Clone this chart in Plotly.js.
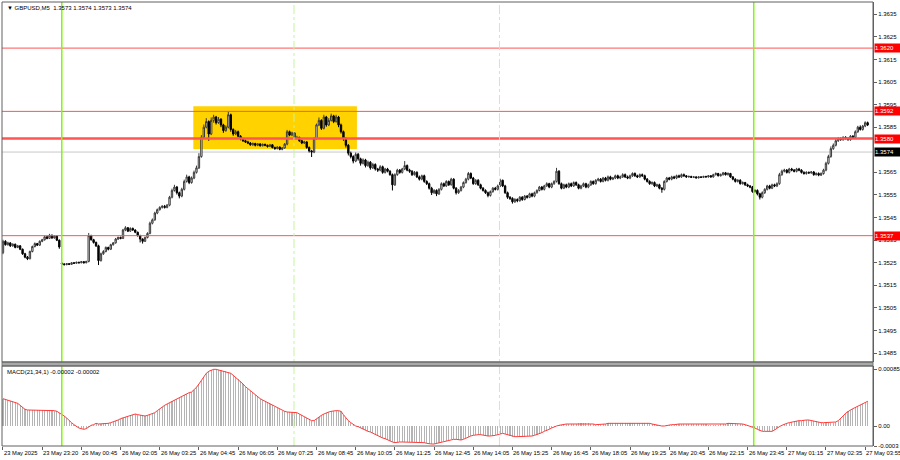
<!DOCTYPE html>
<html><head><meta charset="utf-8">
<script src="https://cdn.plot.ly/plotly-3.0.1.min.js"></script>
<style>html,body{margin:0;padding:0;background:#fff;}#chart{width:900px;height:460px;}</style>
</head><body><div id="chart"></div>
<script>
const opens = [
1.35295,1.35345,1.35330,1.35338,1.35325,1.35332,1.35318,1.35325,1.35310,1.35290,
1.35275,1.35268,1.35300,1.35322,1.35335,1.35328,1.35345,1.35352,1.35365,1.35358,
1.35372,1.35360,1.35368,1.35350,1.35248,1.35245,1.35242,1.35246,1.35243,1.35250,
1.35248,1.35252,1.35250,1.35255,1.35250,1.35256,1.35370,1.35352,1.35340,1.35325,
1.35260,1.35290,1.35300,1.35318,1.35310,1.35330,1.35338,1.35355,1.35362,1.35358,
1.35395,1.35405,1.35390,1.35402,1.35395,1.35385,1.35370,1.35355,1.35345,1.35362,
1.35380,1.35425,1.35440,1.35470,1.35485,1.35495,1.35500,1.35495,1.35505,1.35540,
1.35570,1.35585,1.35560,1.35545,1.35575,1.35610,1.35630,1.35605,1.35625,1.35650,
1.35670,1.35720,1.35805,1.35850,1.35875,1.35820,1.35880,1.35895,1.35870,1.35885,
1.35860,1.35835,1.35850,1.35905,1.35840,1.35820,1.35830,1.35810,1.35798,1.35790,
1.35785,1.35780,1.35772,1.35778,1.35770,1.35776,1.35768,1.35774,1.35770,1.35765,
1.35772,1.35760,1.35755,1.35762,1.35752,1.35758,1.35775,1.35830,1.35815,1.35825,
1.35800,1.35805,1.35790,1.35780,1.35785,1.35760,1.35745,1.35740,1.35800,1.35860,
1.35880,1.35845,1.35895,1.35860,1.35880,1.35900,1.35875,1.35895,1.35860,1.35830,
1.35800,1.35770,1.35735,1.35720,1.35700,1.35730,1.35710,1.35690,1.35705,1.35680,
1.35695,1.35670,1.35685,1.35665,1.35660,1.35675,1.35650,1.35665,1.35655,1.35640,
1.35595,1.35640,1.35660,1.35650,1.35665,1.35680,1.35660,1.35655,1.35640,1.35650,
1.35630,1.35620,1.35635,1.35610,1.35600,1.35580,1.35560,1.35570,1.35555,1.35575,
1.35600,1.35590,1.35610,1.35595,1.35620,1.35580,1.35560,1.35570,1.35585,1.35605,
1.35620,1.35645,1.35625,1.35600,1.35615,1.35595,1.35580,1.35570,1.35560,1.35548,
1.35565,1.35580,1.35575,1.35590,1.35615,1.35590,1.35560,1.35540,1.35535,1.35520,
1.35530,1.35525,1.35540,1.35530,1.35545,1.35540,1.35555,1.35545,1.35560,1.35570,
1.35585,1.35575,1.35590,1.35600,1.35585,1.35600,1.35610,1.35655,1.35600,1.35580,
1.35595,1.35585,1.35600,1.35590,1.35605,1.35595,1.35580,1.35590,1.35600,1.35585,
1.35595,1.35610,1.35600,1.35615,1.35620,1.35610,1.35625,1.35615,1.35630,1.35620,
1.35625,1.35635,1.35625,1.35630,1.35640,1.35630,1.35625,1.35635,1.35645,1.35635,
1.35630,1.35640,1.35635,1.35620,1.35610,1.35600,1.35605,1.35590,1.35595,1.35580,
1.35575,1.35610,1.35625,1.35620,1.35630,1.35625,1.35635,1.35630,1.35640,1.35635,
1.35630,1.35632,1.35628,1.35630,1.35626,1.35630,1.35628,1.35632,1.35630,1.35635,
1.35630,1.35640,1.35645,1.35635,1.35640,1.35648,1.35640,1.35645,1.35630,1.35620,
1.35610,1.35615,1.35600,1.35605,1.35595,1.35590,1.35585,1.35565,1.35570,1.35555,
1.35540,1.35560,1.35575,1.35590,1.35580,1.35595,1.35590,1.35600,1.35640,1.35655,
1.35660,1.35650,1.35665,1.35660,1.35655,1.35665,1.35660,1.35650,1.35645,1.35650,
1.35648,1.35652,1.35640,1.35645,1.35638,1.35645,1.35660,1.35690,1.35720,1.35755,
1.35770,1.35790,1.35800,1.35795,1.35805,1.35800,1.35795,1.35810,1.35805,1.35830,
1.35850,1.35840,1.35855,1.35870];
const highs = [
1.35352,1.35350,1.35343,1.35341,1.35336,1.35335,1.35329,1.35328,1.35313,1.35294,
1.35280,1.35304,1.35326,1.35340,1.35338,1.35349,1.35356,1.35370,1.35368,1.35378,
1.35375,1.35372,1.35371,1.35353,1.35252,1.35248,1.35249,1.35249,1.35253,1.35253,
1.35255,1.35255,1.35258,1.35257,1.35259,1.35382,1.35374,1.35356,1.35344,1.35330,
1.35295,1.35306,1.35322,1.35321,1.35334,1.35342,1.35360,1.35366,1.35366,1.35400,
1.35412,1.35408,1.35407,1.35406,1.35398,1.35388,1.35374,1.35358,1.35366,1.35385,
1.35432,1.35446,1.35476,1.35490,1.35500,1.35505,1.35506,1.35510,1.35546,1.35578,
1.35595,1.35590,1.35565,1.35582,1.35618,1.35640,1.35635,1.35632,1.35658,1.35680,
1.35735,1.35815,1.35862,1.35890,1.35880,1.35893,1.35905,1.35900,1.35895,1.35890,
1.35865,1.35858,1.35920,1.35910,1.35845,1.35838,1.35835,1.35815,1.35803,1.35795,
1.35790,1.35784,1.35782,1.35781,1.35780,1.35779,1.35778,1.35777,1.35773,1.35776,
1.35775,1.35764,1.35766,1.35765,1.35762,1.35780,1.35838,1.35835,1.35830,1.35828,
1.35812,1.35808,1.35795,1.35790,1.35788,1.35765,1.35750,1.35806,1.35866,1.35893,
1.35885,1.35905,1.35900,1.35890,1.35910,1.35905,1.35905,1.35900,1.35866,1.35835,
1.35805,1.35775,1.35742,1.35726,1.35738,1.35736,1.35715,1.35712,1.35710,1.35702,
1.35700,1.35692,1.35690,1.35670,1.35682,1.35680,1.35670,1.35670,1.35660,1.35645,
1.35646,1.35666,1.35665,1.35670,1.35700,1.35685,1.35666,1.35660,1.35656,1.35655,
1.35636,1.35640,1.35640,1.35615,1.35605,1.35586,1.35576,1.35575,1.35580,1.35606,
1.35605,1.35615,1.35614,1.35626,1.35624,1.35585,1.35576,1.35590,1.35610,1.35626,
1.35652,1.35650,1.35630,1.35620,1.35620,1.35600,1.35585,1.35575,1.35565,1.35570,
1.35585,1.35586,1.35596,1.35622,1.35618,1.35595,1.35565,1.35545,1.35540,1.35536,
1.35535,1.35545,1.35545,1.35550,1.35550,1.35560,1.35560,1.35565,1.35575,1.35590,
1.35590,1.35595,1.35606,1.35604,1.35605,1.35615,1.35670,1.35660,1.35605,1.35600,
1.35600,1.35605,1.35605,1.35610,1.35610,1.35600,1.35595,1.35605,1.35604,1.35600,
1.35615,1.35614,1.35620,1.35626,1.35625,1.35630,1.35630,1.35636,1.35635,1.35630,
1.35640,1.35640,1.35636,1.35646,1.35645,1.35636,1.35640,1.35650,1.35650,1.35640,
1.35645,1.35645,1.35640,1.35625,1.35615,1.35610,1.35610,1.35600,1.35600,1.35585,
1.35615,1.35630,1.35630,1.35635,1.35635,1.35640,1.35640,1.35645,1.35645,1.35638,
1.35636,1.35635,1.35633,1.35633,1.35633,1.35633,1.35635,1.35635,1.35638,1.35638,
1.35644,1.35650,1.35648,1.35645,1.35652,1.35652,1.35650,1.35648,1.35634,1.35624,
1.35620,1.35620,1.35610,1.35608,1.35600,1.35594,1.35590,1.35576,1.35575,1.35560,
1.35566,1.35580,1.35595,1.35595,1.35600,1.35600,1.35606,1.35648,1.35662,1.35666,
1.35665,1.35670,1.35670,1.35665,1.35670,1.35670,1.35664,1.35655,1.35655,1.35654,
1.35656,1.35656,1.35650,1.35650,1.35650,1.35666,1.35697,1.35728,1.35765,1.35778,
1.35797,1.35806,1.35805,1.35810,1.35810,1.35806,1.35815,1.35815,1.35836,1.35856,
1.35858,1.35860,1.35876,1.35875];
const lows = [
1.35288,1.35326,1.35326,1.35320,1.35321,1.35314,1.35315,1.35306,1.35285,1.35270,
1.35262,1.35265,1.35296,1.35318,1.35324,1.35325,1.35341,1.35348,1.35354,1.35355,
1.35356,1.35357,1.35346,1.35312,1.35240,1.35238,1.35239,1.35240,1.35241,1.35245,
1.35246,1.35247,1.35248,1.35247,1.35248,1.35252,1.35348,1.35335,1.35320,1.35240,
1.35255,1.35285,1.35296,1.35305,1.35307,1.35326,1.35335,1.35351,1.35354,1.35355,
1.35390,1.35386,1.35387,1.35391,1.35381,1.35366,1.35340,1.35335,1.35342,1.35358,
1.35376,1.35420,1.35436,1.35465,1.35481,1.35490,1.35490,1.35491,1.35500,1.35535,
1.35565,1.35552,1.35535,1.35540,1.35570,1.35605,1.35598,1.35600,1.35620,1.35645,
1.35665,1.35715,1.35798,1.35845,1.35790,1.35815,1.35870,1.35862,1.35865,1.35850,
1.35825,1.35830,1.35845,1.35830,1.35812,1.35815,1.35805,1.35792,1.35785,1.35780,
1.35775,1.35768,1.35768,1.35765,1.35766,1.35764,1.35765,1.35766,1.35760,1.35762,
1.35756,1.35750,1.35752,1.35748,1.35748,1.35755,1.35770,1.35810,1.35810,1.35795,
1.35796,1.35785,1.35775,1.35776,1.35755,1.35738,1.35718,1.35735,1.35795,1.35855,
1.35838,1.35840,1.35852,1.35855,1.35875,1.35868,1.35870,1.35850,1.35822,1.35790,
1.35760,1.35725,1.35712,1.35690,1.35695,1.35702,1.35680,1.35685,1.35672,1.35675,
1.35662,1.35665,1.35658,1.35652,1.35655,1.35644,1.35645,1.35650,1.35635,1.35570,
1.35590,1.35635,1.35644,1.35645,1.35660,1.35655,1.35648,1.35634,1.35636,1.35625,
1.35614,1.35615,1.35604,1.35594,1.35574,1.35550,1.35555,1.35545,1.35550,1.35570,
1.35585,1.35586,1.35590,1.35592,1.35575,1.35552,1.35555,1.35565,1.35580,1.35600,
1.35615,1.35620,1.35595,1.35595,1.35590,1.35575,1.35565,1.35555,1.35540,1.35543,
1.35560,1.35570,1.35570,1.35585,1.35585,1.35555,1.35533,1.35528,1.35512,1.35515,
1.35518,1.35520,1.35524,1.35526,1.35534,1.35536,1.35540,1.35540,1.35556,1.35566,
1.35570,1.35570,1.35586,1.35580,1.35580,1.35595,1.35605,1.35595,1.35575,1.35576,
1.35580,1.35580,1.35585,1.35586,1.35590,1.35575,1.35575,1.35585,1.35580,1.35580,
1.35590,1.35595,1.35596,1.35610,1.35605,1.35606,1.35610,1.35610,1.35615,1.35616,
1.35620,1.35620,1.35620,1.35626,1.35625,1.35620,1.35620,1.35630,1.35630,1.35625,
1.35626,1.35630,1.35615,1.35605,1.35595,1.35595,1.35585,1.35585,1.35575,1.35560,
1.35570,1.35605,1.35615,1.35615,1.35620,1.35620,1.35625,1.35626,1.35630,1.35626,
1.35627,1.35625,1.35625,1.35623,1.35623,1.35625,1.35625,1.35627,1.35627,1.35627,
1.35627,1.35636,1.35632,1.35632,1.35636,1.35636,1.35636,1.35626,1.35615,1.35605,
1.35605,1.35596,1.35596,1.35590,1.35585,1.35580,1.35560,1.35560,1.35548,1.35530,
1.35535,1.35555,1.35570,1.35575,1.35576,1.35585,1.35585,1.35595,1.35635,1.35650,
1.35645,1.35645,1.35655,1.35650,1.35650,1.35655,1.35645,1.35640,1.35640,1.35643,
1.35644,1.35635,1.35636,1.35633,1.35634,1.35640,1.35655,1.35685,1.35715,1.35750,
1.35765,1.35785,1.35790,1.35790,1.35795,1.35790,1.35790,1.35800,1.35800,1.35825,
1.35835,1.35835,1.35850,1.35855];
const closes = [
1.35345,1.35330,1.35338,1.35325,1.35332,1.35318,1.35325,1.35310,1.35290,1.35275,
1.35268,1.35300,1.35322,1.35335,1.35328,1.35345,1.35352,1.35365,1.35358,1.35372,
1.35360,1.35368,1.35350,1.35320,1.35245,1.35242,1.35246,1.35243,1.35250,1.35248,
1.35252,1.35250,1.35255,1.35250,1.35256,1.35370,1.35352,1.35340,1.35325,1.35260,
1.35290,1.35300,1.35318,1.35310,1.35330,1.35338,1.35355,1.35362,1.35358,1.35395,
1.35405,1.35390,1.35402,1.35395,1.35385,1.35370,1.35355,1.35345,1.35362,1.35380,
1.35425,1.35440,1.35470,1.35485,1.35495,1.35500,1.35495,1.35505,1.35540,1.35570,
1.35585,1.35560,1.35545,1.35575,1.35610,1.35630,1.35605,1.35625,1.35650,1.35670,
1.35720,1.35805,1.35850,1.35875,1.35820,1.35880,1.35895,1.35870,1.35885,1.35860,
1.35835,1.35850,1.35905,1.35840,1.35820,1.35830,1.35810,1.35798,1.35790,1.35785,
1.35780,1.35772,1.35778,1.35770,1.35776,1.35768,1.35774,1.35770,1.35765,1.35772,
1.35760,1.35755,1.35762,1.35752,1.35758,1.35775,1.35830,1.35815,1.35825,1.35800,
1.35805,1.35790,1.35780,1.35785,1.35760,1.35745,1.35740,1.35800,1.35860,1.35880,
1.35845,1.35895,1.35860,1.35880,1.35900,1.35875,1.35895,1.35860,1.35830,1.35800,
1.35770,1.35735,1.35720,1.35700,1.35730,1.35710,1.35690,1.35705,1.35680,1.35695,
1.35670,1.35685,1.35665,1.35660,1.35675,1.35650,1.35665,1.35655,1.35640,1.35595,
1.35640,1.35660,1.35650,1.35665,1.35680,1.35660,1.35655,1.35640,1.35650,1.35630,
1.35620,1.35635,1.35610,1.35600,1.35580,1.35560,1.35570,1.35555,1.35575,1.35600,
1.35590,1.35610,1.35595,1.35620,1.35580,1.35560,1.35570,1.35585,1.35605,1.35620,
1.35645,1.35625,1.35600,1.35615,1.35595,1.35580,1.35570,1.35560,1.35548,1.35565,
1.35580,1.35575,1.35590,1.35615,1.35590,1.35560,1.35540,1.35535,1.35520,1.35530,
1.35525,1.35540,1.35530,1.35545,1.35540,1.35555,1.35545,1.35560,1.35570,1.35585,
1.35575,1.35590,1.35600,1.35585,1.35600,1.35610,1.35655,1.35600,1.35580,1.35595,
1.35585,1.35600,1.35590,1.35605,1.35595,1.35580,1.35590,1.35600,1.35585,1.35595,
1.35610,1.35600,1.35615,1.35620,1.35610,1.35625,1.35615,1.35630,1.35620,1.35625,
1.35635,1.35625,1.35630,1.35640,1.35630,1.35625,1.35635,1.35645,1.35635,1.35630,
1.35640,1.35635,1.35620,1.35610,1.35600,1.35605,1.35590,1.35595,1.35580,1.35575,
1.35610,1.35625,1.35620,1.35630,1.35625,1.35635,1.35630,1.35640,1.35635,1.35630,
1.35632,1.35628,1.35630,1.35626,1.35630,1.35628,1.35632,1.35630,1.35635,1.35630,
1.35640,1.35645,1.35635,1.35640,1.35648,1.35640,1.35645,1.35630,1.35620,1.35610,
1.35615,1.35600,1.35605,1.35595,1.35590,1.35585,1.35565,1.35570,1.35555,1.35540,
1.35560,1.35575,1.35590,1.35580,1.35595,1.35590,1.35600,1.35640,1.35655,1.35660,
1.35650,1.35665,1.35660,1.35655,1.35665,1.35660,1.35650,1.35645,1.35650,1.35648,
1.35652,1.35640,1.35645,1.35638,1.35645,1.35660,1.35690,1.35720,1.35755,1.35770,
1.35790,1.35800,1.35795,1.35805,1.35800,1.35795,1.35810,1.35805,1.35830,1.35850,
1.35840,1.35855,1.35870,1.35860];
const macd = [
0.00041,0.00040,0.00039,0.00038,0.00037,0.00036,0.00034,0.00031,0.00028,0.00025,
0.00024,0.00024,0.00024,0.00024,0.00024,0.00024,0.00024,0.00024,0.00024,0.00024,
0.00024,0.00023,0.00022,0.00020,0.00018,0.00015,0.00012,0.00008,0.00005,0.00002,
-0.00001,-0.00003,-0.00004,-0.00005,-0.00004,-0.00001,0.00001,0.00002,0.00004,0.00003,
0.00003,0.00004,0.00004,0.00004,0.00005,0.00006,0.00008,0.00009,0.00011,0.00012,
0.00014,0.00015,0.00016,0.00017,0.00018,0.00017,0.00016,0.00015,0.00015,0.00016,
0.00017,0.00018,0.00020,0.00023,0.00026,0.00028,0.00031,0.00033,0.00035,0.00037,
0.00039,0.00041,0.00042,0.00044,0.00046,0.00048,0.00050,0.00051,0.00054,0.00058,
0.00063,0.00068,0.00074,0.00079,0.00082,0.00084,0.00085,0.00085,0.00084,0.00084,
0.00083,0.00082,0.00081,0.00079,0.00076,0.00073,0.00070,0.00067,0.00063,0.00059,
0.00056,0.00052,0.00049,0.00046,0.00043,0.00041,0.00039,0.00037,0.00035,0.00033,
0.00031,0.00029,0.00027,0.00025,0.00023,0.00022,0.00021,0.00021,0.00021,0.00021,
0.00020,0.00018,0.00016,0.00014,0.00012,0.00010,0.00008,0.00008,0.00011,0.00014,
0.00016,0.00018,0.00020,0.00021,0.00022,0.00023,0.00023,0.00023,0.00022,0.00017,
0.00012,0.00008,0.00005,0.00002,0.00000,-0.00001,-0.00003,-0.00005,-0.00006,-0.00008,
-0.00009,-0.00011,-0.00013,-0.00014,-0.00016,-0.00018,-0.00019,-0.00021,-0.00023,-0.00024,
-0.00025,-0.00024,-0.00024,-0.00024,-0.00024,-0.00024,-0.00024,-0.00024,-0.00024,-0.00024,
-0.00024,-0.00025,-0.00025,-0.00026,-0.00027,-0.00027,-0.00027,-0.00026,-0.00025,-0.00024,
-0.00023,-0.00022,-0.00021,-0.00020,-0.00020,-0.00020,-0.00021,-0.00021,-0.00020,-0.00018,
-0.00016,-0.00015,-0.00014,-0.00013,-0.00013,-0.00013,-0.00014,-0.00015,-0.00015,-0.00015,
-0.00015,-0.00014,-0.00013,-0.00012,-0.00011,-0.00012,-0.00013,-0.00015,-0.00016,-0.00016,
-0.00016,-0.00016,-0.00016,-0.00016,-0.00015,-0.00015,-0.00015,-0.00014,-0.00013,-0.00012,
-0.00010,-0.00008,-0.00007,-0.00005,-0.00003,-0.00001,0.00000,0.00001,0.00002,0.00002,
0.00003,0.00003,0.00003,0.00003,0.00003,0.00004,0.00004,0.00004,0.00004,0.00004,
0.00003,0.00003,0.00002,0.00002,0.00002,0.00003,0.00003,0.00004,0.00004,0.00005,
0.00005,0.00005,0.00005,0.00005,0.00005,0.00004,0.00004,0.00004,0.00004,0.00004,
0.00004,0.00005,0.00005,0.00005,0.00004,0.00003,0.00002,0.00001,0.00000,0.00000,
0.00000,0.00001,0.00001,0.00002,0.00002,0.00003,0.00003,0.00003,0.00003,0.00003,
0.00003,0.00003,0.00003,0.00003,0.00003,0.00003,0.00003,0.00003,0.00002,0.00002,
0.00002,0.00002,0.00002,0.00003,0.00003,0.00003,0.00004,0.00004,0.00004,0.00004,
0.00003,0.00003,0.00003,0.00002,0.00001,0.00000,-0.00001,-0.00003,-0.00005,-0.00007,
-0.00008,-0.00008,-0.00008,-0.00008,-0.00008,-0.00006,-0.00003,-0.00001,0.00001,0.00003,
0.00004,0.00005,0.00006,0.00007,0.00007,0.00008,0.00008,0.00009,0.00009,0.00009,
0.00008,0.00008,0.00007,0.00006,0.00005,0.00005,0.00005,0.00005,0.00005,0.00005,
0.00006,0.00008,0.00011,0.00015,0.00019,0.00022,0.00024,0.00026,0.00028,0.00030,
0.00032,0.00033,0.00035,0.00037];

const tickIdx = [0,16,32,48,64,80,96,112,128,144,160,176,192,208,224,240,256,272,288,304,320,336,352];
const tickLabels = ["23 May 2025","23 May 23:20","26 May 00:45","26 May 02:05","26 May 03:25","26 May 04:45",
 "26 May 06:05","26 May 07:25","26 May 08:45","26 May 10:05","26 May 11:25","26 May 12:45","26 May 14:05",
 "26 May 15:25","26 May 16:45","26 May 18:05","26 May 19:25","26 May 20:45","26 May 22:15","26 May 23:45",
 "27 May 01:15","27 May 02:35","27 May 03:55"];
const priceTicks = [1.3485,1.3495,1.3505,1.3515,1.3525,1.3535,1.3545,1.3555,1.3565,1.3585,1.3595,1.3605,1.3615,1.3625,1.3635];
const macdTicks = [-0.0003, 0, 0.00085];
const macdTickText = ["-0.0003","0.00","0.00085"];
const redLevels = [1.3620, 1.3592, 1.3580, 1.3537];
const bidLevel = 1.3574;
const sessionLines = [24, 306.5];
const dashedLines = [118.8, 202.7];
const zoneX = [77.7, 144.5];
const zoneY = [1.35753, 1.35943];
const headerText = "\u25BC GBPUSD,M5  1.3573 1.3574 1.3573 1.3574";
const macdText = "MACD(21,34,1) -0.00002 -0.00002";

const barIdx = closes.map((_, i) => i);
const FONT = "Liberation Sans, Arial, sans-serif";
const mainDom = [0.1892, 1];
const macdDom = [0, 0.1802];

const traces = [
 {type:'candlestick', x:barIdx, open:opens, high:highs, low:lows, close:closes,
  xaxis:'x', yaxis:'y', whiskerwidth:0, hoverinfo:'none', showlegend:false,
  increasing:{line:{color:'#3a3a3a', width:1}, fillcolor:'#ffffff'},
  decreasing:{line:{color:'#000000', width:1}, fillcolor:'#000000'}},
 {type:'bar', x:barIdx, y:macd, xaxis:'x', yaxis:'y2', width:0.45,
  marker:{color:'#b4b4b4', line:{width:0}}, hoverinfo:'none', showlegend:false},
 {type:'scatter', mode:'lines', x:barIdx, y:macd, xaxis:'x', yaxis:'y2',
  line:{color:'#ff3b3b', width:1}, hoverinfo:'none', showlegend:false}
];

const shapes = [];
shapes.push({type:'rect', xref:'x', yref:'y', x0:zoneX[0], x1:zoneX[1], y0:zoneY[0], y1:zoneY[1],
  fillcolor:'#ffd200', line:{width:0}, layer:'below'});
shapes.push({type:'line', xref:'paper', yref:'y', x0:0, x1:1, y0:bidLevel, y1:bidLevel,
  line:{color:'#c8c8c8', width:1}, layer:'below'});
redLevels.forEach(v => shapes.push({type:'line', xref:'paper', yref:'y', x0:0, x1:1, y0:v, y1:v,
  line:{color:'#ff5555', width: v === 1.3580 ? 2.5 : 1}, layer:'above'}));
sessionLines.forEach(v => shapes.push({type:'line', xref:'x', yref:'paper', x0:v, x1:v, y0:0, y1:1,
  line:{color:'#7cfc00', width:1.5}, layer:'above'}));
dashedLines.forEach(v => shapes.push({type:'line', xref:'x', yref:'paper', x0:v, x1:v, y0:0, y1:1,
  line:{color:'#c4f59a', width:1, dash:'dashdot'}, layer:'above'}));
shapes.push({type:'rect', xref:'paper', yref:'paper', x0:0, x1:1, y0:macdDom[1], y1:mainDom[0],
  fillcolor:'#a8a8a8', line:{color:'#7a7a7a', width:1}, layer:'above'});
shapes.push({type:'rect', xref:'paper', yref:'paper', x0:0, x1:1, y0:mainDom[0], y1:mainDom[1],
  fillcolor:'rgba(0,0,0,0)', line:{color:'#606060', width:1}, layer:'above'});
shapes.push({type:'rect', xref:'paper', yref:'paper', x0:0, x1:1, y0:macdDom[0], y1:macdDom[1],
  fillcolor:'rgba(0,0,0,0)', line:{color:'#606060', width:1}, layer:'above'});

const annotations = [];
annotations.push({xref:'paper', yref:'paper', x:0.003, y:1, xanchor:'left', yanchor:'top', yshift:-1,
  text:headerText, showarrow:false, font:{family:FONT, size:6, color:'#000'}});
annotations.push({xref:'paper', yref:'paper', x:0.003, y:macdDom[1], xanchor:'left', yanchor:'top', yshift:-1,
  text:macdText, showarrow:false, font:{family:FONT, size:6, color:'#000'}});
tickIdx.forEach((t, k) => annotations.push({xref:'x', yref:'paper', x:t, y:0, xanchor:'left', yanchor:'top',
  yshift:-2, xshift:-1, text:tickLabels[k], showarrow:false, font:{family:FONT, size:5.8, color:'#000'}}));
redLevels.forEach(v => annotations.push({xref:'paper', yref:'y', x:1, y:v, xanchor:'left', yanchor:'middle',
  xshift:1, text:v.toFixed(4), showarrow:false, bgcolor:'#ff0000', width:25, height:8, borderpad:0,
  align:'left', font:{family:FONT, size:6, color:'#ffffff'}}));
annotations.push({xref:'paper', yref:'y', x:1, y:bidLevel, xanchor:'left', yanchor:'middle',
  xshift:1, text:bidLevel.toFixed(4), showarrow:false, bgcolor:'#000000', width:25, height:8, borderpad:0,
  align:'left', font:{family:FONT, size:6, color:'#ffffff'}});

const layout = {
  width:900, height:460, margin:{l:2, r:27, t:2, b:14},
  paper_bgcolor:'#ffffff', plot_bgcolor:'#ffffff', showlegend:false, bargap:0, boxgap:0.2,
  xaxis:{range:[-0.4, 355.2], anchor:'y2', showgrid:false, zeroline:false, showline:false,
    tickvals:tickIdx, ticks:'outside', ticklen:3, tickcolor:'#606060', showticklabels:false,
    rangeslider:{visible:false}, fixedrange:true},
  yaxis:{domain:mainDom, range:[1.34811, 1.36404], side:'right', showgrid:false, zeroline:false,
    tickvals:priceTicks, ticktext:priceTicks.map(v => v.toFixed(4)), ticks:'outside', ticklen:3,
    tickcolor:'#606060', showline:true, linecolor:'#606060',
    tickfont:{family:FONT, size:6, color:'#000'}, fixedrange:true},
  yaxis2:{domain:macdDom, range:[-0.0003, 0.0009], side:'right', showgrid:false, zeroline:false,
    tickvals:macdTicks, ticktext:macdTickText, ticks:'outside', ticklen:3, tickcolor:'#606060',
    showline:true, linecolor:'#606060', tickfont:{family:FONT, size:6, color:'#000'}, fixedrange:true},
  shapes:shapes, annotations:annotations
};
Plotly.newPlot('chart', traces, layout, {staticPlot:true, displayModeBar:false});
</script></body></html>
